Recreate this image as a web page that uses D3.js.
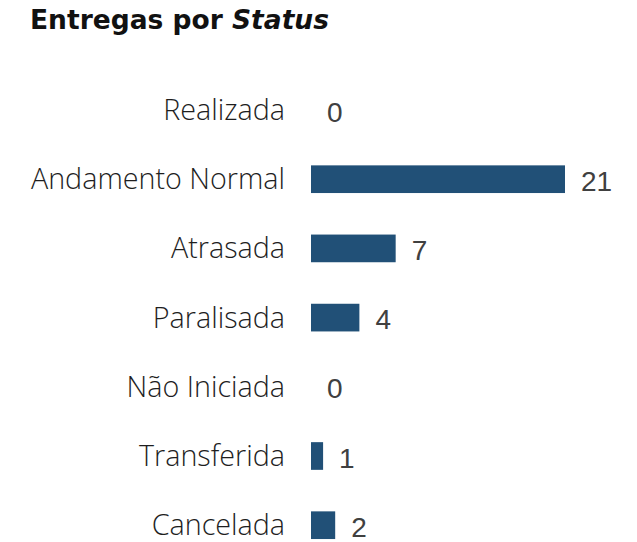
<!DOCTYPE html>
<html>
<head>
<meta charset="utf-8">
<script src="https://cdn.jsdelivr.net/npm/d3@7"></script>
<style>
  html, body { margin: 0; padding: 0; background: #fff; }
  svg { display: block; }
</style>
</head>
<body>
<svg id="chart" width="637" height="542"></svg>
<script>
// Delivery counts by status
const categories = ["Realizada", "Andamento Normal", "Atrasada", "Paralisada", "Não Iniciada", "Transferida", "Cancelada"];
const values = [0, 21, 7, 4, 0, 1, 2];

const svg = d3.select("#chart");
const titleFont = "'DejaVu Sans', 'Open Sans', sans-serif";
const labelFont = "'Open Sans', Lato, sans-serif";
const valueFont = "'Liberation Sans', Arial, sans-serif";

// Title with italic "Status"
const title = svg.append("text")
  .attr("x", 30).attr("y", 29)
  .attr("font-family", titleFont)
  .attr("font-weight", 700)
  .attr("font-size", 26.5)
  .attr("fill", "#111");
title.append("tspan").text("Entregas por ");
title.append("tspan").attr("font-style", "italic").text("Status");

const y = d3.scaleBand()
  .domain(categories)
  .range([75.4, 559.8])
  .paddingInner(0.6)
  .paddingOuter(0.3);

const x = d3.scaleLinear()
  .domain([0, d3.max(values)])
  .range([311, 565]);

const rows = categories.map((c, i) => ({ cat: c, val: values[i] }));
const mid = d => y(d.cat) + y.bandwidth() / 2;

// Category labels
svg.append("g").selectAll("text")
  .data(rows)
  .join("text")
  .attr("x", 285)
  .attr("y", d => mid(d) + 10)
  .attr("text-anchor", "end")
  .attr("font-family", labelFont)
  .attr("font-weight", 300)
  .attr("font-size", 28.7)
  .attr("fill", "#1e1e1e")
  .text(d => d.cat);

// Bars
svg.append("g").selectAll("rect")
  .data(rows)
  .join("rect")
  .attr("x", x(0))
  .attr("y", d => y(d.cat))
  .attr("width", d => x(d.val) - x(0))
  .attr("height", y.bandwidth())
  .attr("fill", "#215077");

// Value labels
svg.append("g").selectAll("text")
  .data(rows)
  .join("text")
  .attr("x", d => x(d.val) + 16)
  .attr("y", d => mid(d) + 11.5)
  .attr("font-family", valueFont)
  .attr("font-size", 28)
  .attr("fill", "#404040")
  .text(d => d.val);
</script>
</body>
</html>
